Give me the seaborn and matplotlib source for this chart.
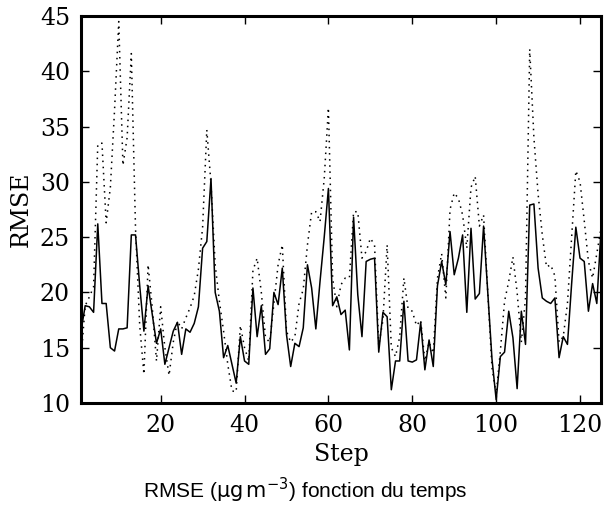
import numpy as np
import pandas as pd
import matplotlib
matplotlib.use("Agg")
import matplotlib.pyplot as plt
import seaborn as sns

# step index
steps = list(range(1, 126))

# RMSE, solid curve
rmse_solid = [
    16.5, 18.8, 18.7, 18.2, 26.2, 19.0, 19.0, 15.0, 14.7, 16.7,
    16.7, 16.8, 25.2, 25.2, 20.6, 16.5, 20.6, 18.0, 15.4, 16.7,
    13.5, 15.0, 16.5, 17.3, 14.4, 16.7, 16.4, 17.2, 18.7, 24.0,
    24.6, 30.3, 20.0, 18.3, 14.1, 15.2, 13.5, 11.8, 16.0, 13.8,
    13.5, 20.4, 16.0, 18.8, 14.4, 14.9, 20.0, 18.9, 22.2, 16.2,
    13.3, 15.4, 15.1, 16.8, 22.5, 20.4, 16.7, 21.0, 25.0, 29.4,
    18.8, 19.6, 18.0, 18.4, 14.8, 26.8, 19.8, 16.0, 22.8, 23.0,
    23.1, 14.6, 18.2, 17.8, 11.2, 13.8, 13.8, 19.2, 13.8, 13.7,
    13.9, 17.3, 13.0, 15.7, 13.3, 20.6, 22.8, 20.7, 25.5, 21.6,
    23.1, 25.2, 18.2, 25.8, 19.4, 19.9, 26.0, 20.0, 14.0, 10.3,
    14.2, 14.6, 18.3, 15.9, 11.3, 18.3, 15.3, 27.9, 28.0, 22.2,
    19.5, 19.2, 19.0, 19.5, 14.1, 16.0, 15.3, 20.8, 25.9, 23.1,
    22.8, 18.3, 20.8, 19.0, 25.6,
]

# RMSE, dotted curve
rmse_dotted = [
    14.0, 18.8, 19.6, 20.5, 33.4, 33.5, 26.3, 29.5, 36.5, 44.5,
    31.5, 34.0, 41.6, 25.8, 17.0, 12.6, 22.5, 18.6, 13.8, 18.7,
    15.0, 12.5, 15.5, 17.4, 16.7, 17.7, 18.6, 19.7, 22.1, 25.9,
    34.7, 29.8, 22.5, 19.2, 16.5, 13.5, 11.1, 11.0, 17.0, 15.0,
    13.8, 22.0, 23.1, 20.0, 15.9, 15.5, 19.0, 22.5, 24.3, 16.5,
    15.5, 16.0, 19.0, 20.3, 24.3, 27.3, 27.3, 26.4, 30.3, 36.7,
    21.3, 18.7, 20.7, 21.3, 21.3, 27.3, 27.3, 23.1, 23.7, 24.9,
    24.3, 15.2, 17.5, 24.3, 15.0, 14.2, 16.0, 21.3, 18.5, 18.3,
    17.0, 17.5, 13.8, 15.5, 14.5, 21.3, 23.5, 19.5, 27.5, 29.0,
    28.5, 27.0, 24.0, 29.5, 30.5, 26.0, 27.0, 20.0, 13.2, 10.8,
    14.7, 19.2, 21.0, 23.2, 20.0, 15.5, 19.5, 42.0, 34.0, 28.9,
    25.2, 22.3, 22.5, 21.5, 15.5, 16.0, 19.0, 25.0, 31.0, 30.0,
    26.5, 22.8, 21.3, 23.5, 25.8,
]

xticks = [20, 40, 60, 80, 100, 120]
yticks = [10, 15, 20, 25, 30, 35, 40, 45]

df = pd.DataFrame({"step": steps, "solid": rmse_solid, "dotted": rmse_dotted})

sns.set_style("ticks", {"axes.edgecolor": "black", "xtick.color": "black",
                        "ytick.color": "black", "text.color": "black",
                        "axes.labelcolor": "black"})
plt.rcParams["font.family"] = ["DejaVu Serif"]

fig = plt.figure(figsize=(6.1, 5.09), dpi=100)
ax = fig.add_axes([81 / 610, 1 - 403 / 509, 520 / 610, 387 / 509])

sns.lineplot(data=df, x="step", y="dotted", color="black", linewidth=1.1,
             linestyle=(0, (1, 3)), ax=ax)
sns.lineplot(data=df, x="step", y="solid", color="black", linewidth=1.1,
             linestyle="-", ax=ax)

ax.set_xlim(1, 125)
ax.set_ylim(10, 45)
ax.set_xticks(xticks)
ax.set_yticks(yticks)
ax.tick_params(axis="both", which="both", direction="in", top=True, right=True,
               length=6, width=1, labelsize=17, pad=8, colors="black")
for sp in ax.spines.values():
    sp.set_linewidth(2.2)
    sp.set_color("black")
    sp.set_visible(True)

ax.set_xlabel("Step", fontsize=17, labelpad=4)
ax.set_ylabel("RMSE", fontsize=17, labelpad=5)

fig.text(0.5, 0.037, r"RMSE ($\mathrm{\mu g\,m^{-3}}$) fonction du temps",
         ha="center", va="center", fontsize=15,
         family=["Liberation Sans", "DejaVu Sans"])

fig.savefig("out.png", dpi=100)
